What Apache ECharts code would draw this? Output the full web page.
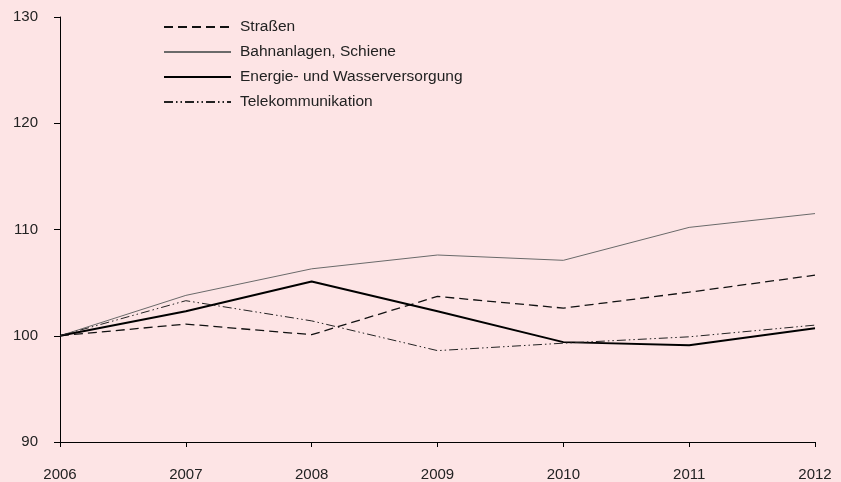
<!DOCTYPE html>
<html><head><meta charset="utf-8">
<script src="https://cdn.jsdelivr.net/npm/echarts@6/dist/echarts.min.js"></script>
<style>html,body{margin:0;padding:0;background:#fde4e5;}#c{width:841px;height:482px;}</style>
</head><body><div id="c"></div>
<script>
var years = ['2006','2007','2008','2009','2010','2011','2012'];
var strassen = [100, 101.1, 100.1, 103.7, 102.6, 104.1, 105.7];
var bahn = [100, 103.8, 106.3, 107.6, 107.1, 110.2, 111.5];
var energie = [100, 102.3, 105.1, 102.3, 99.4, 99.1, 100.7];
var telekom = [100, 103.3, 101.4, 98.6, 99.3, 99.9, 101.0];
var names = ['Straßen','Bahnanlagen, Schiene','Energie- und Wasserversorgung','Telekommunikation'];

var font = '"Liberation Sans", Arial, sans-serif';
var chart = echarts.init(document.getElementById('c'), null, {renderer:'canvas'});
function s(name, data, color, width, type){
  return {name:name, type:'line', data:data, symbol:'none', animation:false,
    lineStyle:{color:color, width:width, type:type}, itemStyle:{color:color}};
}
chart.setOption({
  backgroundColor:'#fde4e5',
  animation:false,
  grid:{left:60, right:26, top:17, bottom:40},
  legend:{orient:'vertical', left:158, top:14, itemWidth:67, itemHeight:14, itemGap:9,
    itemStyle:{opacity:0},
    textStyle:{fontFamily:font, fontSize:15.5, lineHeight:14, color:'#222', padding:[0,0,0,4]},
    data:names},
  xAxis:{type:'category', data:years, boundaryGap:false,
    axisLine:{lineStyle:{color:'#000', width:1}},
    axisTick:{show:true, length:5, lineStyle:{color:'#000'}},
    axisLabel:{margin:25, fontFamily:font, fontSize:15, color:'#222'}},
  yAxis:{type:'value', min:90, max:130, interval:10,
    axisLine:{show:true, lineStyle:{color:'#000', width:1}},
    axisTick:{show:true, length:6, lineStyle:{color:'#000'}},
    splitLine:{show:false},
    axisLabel:{margin:22, fontFamily:font, fontSize:15, color:'#222'}},
  series:[
    s(names[0], strassen, '#111', 1.3, [9,5]),
    s(names[1], bahn, '#6a6a6a', 1, 'solid'),
    s(names[2], energie, '#000', 2, 'solid'),
    s(names[3], telekom, '#222', 1, [9,3,1.5,3,1.5,3])
  ]
});
</script></body></html>
